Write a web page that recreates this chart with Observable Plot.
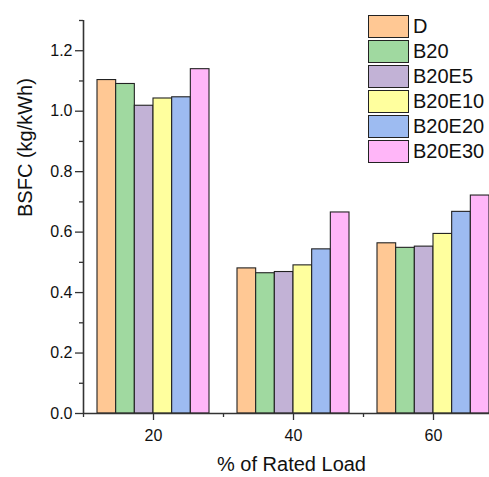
<!DOCTYPE html>
<html>
<head>
<meta charset="utf-8">
<script src="https://cdn.jsdelivr.net/npm/d3@7"></script>
<script src="https://cdn.jsdelivr.net/npm/@observablehq/plot@0.6"></script>
<style>
  html, body { margin: 0; padding: 0; background: #fff; overflow: hidden; }
  #wrap { position: relative; width: 489px; height: 477px; font-family: "Liberation Sans", Arial, sans-serif; }
  #legend { position: absolute; left: 368px; top: 14px; }
  .row { display: flex; align-items: center; height: 25px; }
  .sw { width: 41px; height: 23px; border: 1px solid #222; box-sizing: border-box; }
  .lb { margin-left: 4px; font-size: 20px; color: #111; }
</style>
</head>
<body>
<div id="wrap"></div>
<script>
// ---- data ----
const loads = [20, 40, 60];
const fuels = ["D", "B20", "B20E5", "B20E10", "B20E20", "B20E30"];
const colors = ["#FFC894", "#A0D9A0", "#C2B2D6", "#FFFF9E", "#9DBBF1", "#FFB6F8"];
const D      = [1.103, 0.480, 0.563];
const B20    = [1.090, 0.464, 0.548];
const B20E5  = [1.018, 0.468, 0.552];
const B20E10 = [1.042, 0.490, 0.594];
const B20E20 = [1.046, 0.543, 0.667];
const B20E30 = [1.139, 0.665, 0.721];
const series = [D, B20, B20E5, B20E10, B20E20, B20E30];
const yTicks = [0, 0.2, 0.4, 0.6, 0.8, 1.0, 1.2];
const yMinor = [0.1, 0.3, 0.5, 0.7, 0.9, 1.1, 1.3];
const xTicks = [20, 40, 60];
const xMinor = [10, 30, 50];

// ---- build table ----
const groupW = 16;               // width of a group in x units
const barW = groupW / fuels.length;
const rows = [];
loads.forEach((load, i) => {
  fuels.forEach((f, j) => {
    const x1 = load - groupW / 2 + j * barW;
    rows.push({load, fuel: f, x1, x2: x1 + barW, value: series[j][i]});
  });
});

const axisColor = "#333";
const chart = Plot.plot({
  width: 489,
  height: 477,
  marginLeft: 83,
  marginRight: 0,
  marginTop: 20,
  marginBottom: 64,
  style: {fontFamily: "'Liberation Sans', Arial, sans-serif", color: "#111", background: "#fff"},
  x: {domain: [10, 68], label: null},
  y: {domain: [0, 1.3], label: null},
  color: {domain: fuels, range: colors},
  marks: [
    Plot.rectY(rows, {x1: "x1", x2: "x2", y1: 0, y2: "value", fill: "fuel", stroke: "#222", strokeWidth: 1.1}),
    Plot.axisY({ticks: yTicks, tickFormat: d3.format(".1f"), tickSize: 8, tickPadding: 3, fontSize: 16, label: null, stroke: axisColor, strokeWidth: 1.3}),
    Plot.axisY({ticks: yMinor, tickSize: 4, text: null, label: null, stroke: axisColor, strokeWidth: 1.3}),
    Plot.axisX({ticks: xTicks, tickFormat: d3.format("d"), tickSize: 7, tickPadding: 9, fontSize: 16, label: null, stroke: axisColor, strokeWidth: 1.3}),
    Plot.axisX({ticks: xMinor, tickSize: 4, text: null, label: null, stroke: axisColor, strokeWidth: 1.3}),
    Plot.ruleX([10], {y1: 0, y2: 1.3, stroke: axisColor, strokeWidth: 1.6}),
    Plot.ruleY([0], {stroke: axisColor, strokeWidth: 1.6}),
    Plot.text(["BSFC (kg/kWh)"], {frameAnchor: "left", rotate: -90, dx: -58, dy: 0, fontSize: 20, fill: "#111"}),
    Plot.text(["% of Rated Load"], {frameAnchor: "bottom", dy: 57, dx: 5, fontSize: 20, fill: "#111"})
  ]
});
const wrap = document.getElementById("wrap");
wrap.appendChild(chart);

// ---- legend ----
const lg = document.createElement("div");
lg.id = "legend";
fuels.forEach((f, j) => {
  const r = document.createElement("div");
  r.className = "row";
  const s = document.createElement("div");
  s.className = "sw";
  s.style.background = colors[j];
  const t = document.createElement("span");
  t.className = "lb";
  t.textContent = f;
  r.appendChild(s); r.appendChild(t);
  lg.appendChild(r);
});
wrap.appendChild(lg);
</script>
</body>
</html>
